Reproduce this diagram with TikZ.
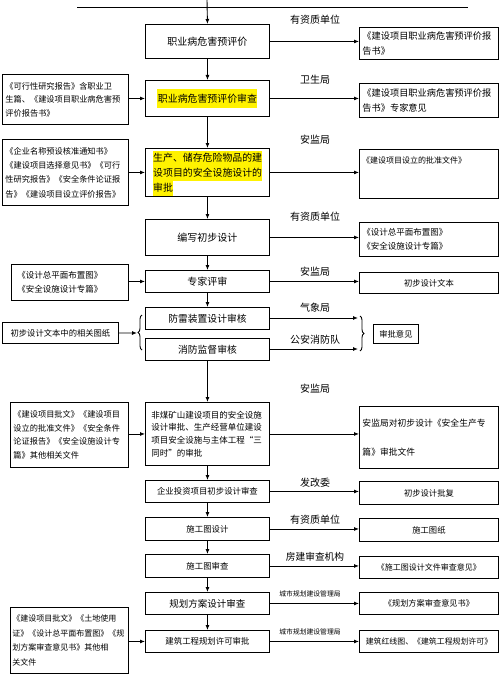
\documentclass[tikz,border=0pt]{standalone}
\usepackage{fontspec}
\newfontfamily\cjk{Noto Sans CJK SC}
\usetikzlibrary{arrows.meta,decorations.pathreplacing}
\newcommand{\fsz}[2]{\fontsize{#1pt}{#2pt}\selectfont}
\begin{document}
\begin{tikzpicture}[x=1pt,y=-1pt,
  every node/.style={font=\cjk},
  box/.style={draw, line width=0.9pt, inner sep=0pt, anchor=north west},
  mainbox/.style={box, minimum width=124pt},
  rightbox/.style={box, minimum width=139pt},
  hl/.style={fill=yellow, inner sep=0pt, anchor=west, minimum height=15pt},
  lab/.style={font=\cjk\fsz{10}{12}},
  arr/.style={line width=0.9pt, -{Latex[length=5pt,width=4pt]}},
  ln/.style={line width=0.9pt},
  brace/.style={line width=0.9pt, decorate, decoration={brace, amplitude=4pt}}]
\useasboundingbox (0,0) rectangle (500,674);

% ---------- main column ----------
\node[mainbox, minimum height=34pt, font=\cjk\fsz{10}{12}] (b1) at (145,24) {职业病危害预评价};
\node[mainbox, minimum height=36pt] (b2) at (145,80) {};
\node[fill=yellow, inner xsep=0.5pt, inner ysep=5pt, font=\cjk\fsz{9.9}{12}] (b2t) at (b2.center) {职业病危害预评价审查};
\node[mainbox, minimum height=48pt] (b3) at (145,148) {};
\node[hl, font=\cjk\fsz{9.9}{12}] (b3a) at (153,158) {生产、储存危险物品的建};
\node[hl, font=\cjk\fsz{9.9}{12}] (b3b) at (153,173) {设项目的安全设施设计的};
\node[hl, font=\cjk\fsz{9.9}{12}] (b3c) at (153,188) {审批};
\node[mainbox, minimum height=36pt, font=\cjk\fsz{10}{12}] (b4) at (145,219) {编写初步设计};
\node[mainbox, minimum height=22pt, font=\cjk\fsz{10}{12}] (b5) at (145,270) {专家评审};
\node[mainbox, minimum height=22pt, font=\cjk\fsz{9.8}{12}] (b6) at (145,307) {防雷装置设计审核};
\node[mainbox, minimum height=22pt, font=\cjk\fsz{9.8}{12}] (b7) at (145,338) {消防监督审核};
\node[mainbox, minimum height=63pt, text width=112pt, align=left, font=\cjk\fsz{8.5}{12.8}] (b8) at (145,402)
  {非煤矿山建设项目的安全设施\\设计审批、生产经营单位建设\\项目安全设施与主体工程“三\\同时”的审批};
\node[mainbox, minimum height=22pt, font=\cjk\fsz{8.4}{10}] (b9) at (145,480) {企业投资项目初步设计审查};
\node[mainbox, minimum height=23pt, font=\cjk\fsz{8.4}{10}] (b10) at (145,517) {施工图设计};
\node[mainbox, minimum height=23pt, font=\cjk\fsz{8.4}{10}] (b11) at (145,554) {施工图审查};
\node[mainbox, minimum height=22pt, font=\cjk\fsz{9.5}{11}] (b12) at (145,592) {规划方案设计审查};
\node[mainbox, minimum height=22pt, font=\cjk\fsz{8.4}{10}] (b13) at (145,630) {建筑工程规划许可审批};

% ---------- right column ----------
\node[rightbox, minimum height=32pt, text width=133pt, align=left, font=\cjk\fsz{9.2}{15}] (r1) at (359,27)
  {《建设项目职业病危害预评价报\\告书》};
\node[rightbox, minimum height=34pt, text width=133pt, align=left, font=\cjk\fsz{9.2}{15}] (r2) at (359,83)
  {《建设项目职业病危害预评价报\\告书》专家意见};
\node[rightbox, minimum height=49pt] (r3) at (359,149) {};
\node[anchor=north west, inner sep=0pt, font=\cjk\fsz{8}{10}] (r3t) at (362,157) {《建设项目设立的批准文件》};
\node[rightbox, minimum height=34pt, text width=133pt, align=left, font=\cjk\fsz{8.5}{13.5}] (r4) at (359,222)
  {《设计总平面布置图》\\《安全设施设计专篇》};
\node[rightbox, minimum height=21pt, font=\cjk\fsz{8.3}{10}] (r5) at (359,272) {初步设计文本};
\node[box, minimum width=45pt, minimum height=19pt, font=\cjk\fsz{8.3}{10}] (rv) at (373,324) {审批意见};
\node[rightbox, minimum height=62pt, text width=133pt, align=left, font=\cjk\fsz{8.8}{29}] (r8) at (359,406)
  {安监局对初步设计《安全生产专\\篇》审批文件};
\node[rightbox, minimum height=23pt, font=\cjk\fsz{8.3}{10}] (r9) at (359,481) {初步设计批复};
\node[rightbox, minimum height=23pt, font=\cjk\fsz{8.3}{10}] (r10) at (359,518) {施工图纸};
\node[rightbox, minimum height=22pt, font=\cjk\fsz{8}{10}] (r11) at (359,556) {《施工图设计文件审查意见》};
\node[rightbox, minimum height=22pt, font=\cjk\fsz{8.2}{10}] (r12) at (359,592) {《规划方案审查意见书》};
\node[rightbox, minimum height=22pt, font=\cjk\fsz{7.9}{10}] (r13) at (359,630) {建筑红线图、《建筑工程规划许可》};

% ---------- left column ----------
\node[box, minimum width=126pt, minimum height=50pt, text width=120pt, align=left, font=\cjk\fsz{8.2}{13.5}] (l2) at (2,74)
  {《可行性研究报告》含职业卫\\生篇、《建设项目职业病危害预\\评价报告书》};
\node[box, minimum width=126pt, minimum height=66pt, text width=120pt, align=left, font=\cjk\fsz{8.2}{14.3}] (l3) at (2,139)
  {《企业名称预设核准通知书》\\《建设项目选择意见书》《可行\\性研究报告》《安全条件论证报\\告》《建设项目设立评价报告》};
\node[box, minimum width=117pt, minimum height=36pt, text width=105pt, align=left, font=\cjk\fsz{8.5}{14}] (l5) at (11,264)
  {《设计总平面布置图》\\《安全设施设计专篇》};
\node[box, minimum width=116pt, minimum height=21pt, font=\cjk\fsz{8.3}{10}] (l6) at (2,322) {初步设计文本中的相关图纸};
\node[box, minimum width=118pt, minimum height=65pt, text width=112pt, align=left, font=\cjk\fsz{8.2}{13.7}] (l8) at (10,402)
  {《建设项目批文》《建设项目\\设立的批准文件》《安全条件\\论证报告》《安全设施设计专\\篇》其他相关文件};
\node[box, minimum width=118pt, minimum height=66pt, text width=114pt, align=left, font=\cjk\fsz{8}{14.5}] (l13) at (10,607)
  {《建设项目批文》《土地使用\\证》《设计总平面布置图》《规\\划方案审查意见书》其他相\\关文件};

% ---------- labels ----------
\node[lab] (t1) at (315,20) {有资质单位};
\node[lab] (t2) at (315,80) {卫生局};
\node[lab] (t3) at (315,140) {安监局};
\node[lab] (t4) at (315,217) {有资质单位};
\node[lab] (t5) at (315,272) {安监局};
\node[lab] (t6) at (315,308) {气象局};
\node[lab] (t7) at (315,340) {公安消防队};
\node[lab] (t8) at (315,389) {安监局};
\node[lab] (t9) at (315,483) {发改委};
\node[lab] (t10) at (315,520) {有资质单位};
\node[lab, font=\cjk\fsz{9.7}{12}] (t11) at (315,557) {房建审查机构};
\node[font=\cjk\fsz{6.8}{8}] (t12) at (310,594) {城市规划建设管理局};
\node[font=\cjk\fsz{6.8}{8}] (t13) at (310,632) {城市规划建设管理局};

% ---------- top ----------
\coordinate (topL) at (77,7);
\coordinate (topR) at (468,7);
\coordinate (topV) at (207,0);
\draw[ln] (topL) -- (topR);
\draw[arr] (topV) -- (b1.north);

% ---------- vertical flow ----------
\draw[arr] (b1) -- (b2);
\draw[arr] (b2) -- (b3);
\draw[arr] (b3) -- (b4);
\draw[arr] (b4) -- (b5);
\draw[arr] (b5) -- (b6);
\draw[arr] (b7) -- (b8);
\draw[arr] (b8) -- (b9);
\draw[arr] (b9) -- (b10);
\draw[arr] (b10) -- (b11);
\draw[arr] (b11) -- (b12);
\draw[arr] (b12) -- (b13);

% ---------- to the right ----------
\foreach \i in {1,2,3,4,5,8,9,10,11,12,13}{
  \draw[arr] (b\i.east) -- (b\i.east -| r\i.west);
}

% ---------- from the left ----------
\foreach \i in {2,3,5,8,13}{
  \draw[arr] (l\i.east |- b\i.west) -- (b\i.west);
}

% ---------- braces ----------
\coordinate (bl1) at (142,350);
\coordinate (bl2) at (142,315);
\coordinate (blt) at (137,333);
\draw[brace] (bl1) -- (bl2);
\draw[arr] (l6.east) -- (blt);
\coordinate (br1) at (360,316);
\coordinate (br2) at (360,351);
\coordinate (e6) at (358,318);
\coordinate (e7) at (358,349);
\draw[brace] (br1) -- (br2);
\draw[arr] (b6.east |- e6) -- (e6);
\draw[arr] (b7.east |- e7) -- (e7);
\end{tikzpicture}
\end{document}
